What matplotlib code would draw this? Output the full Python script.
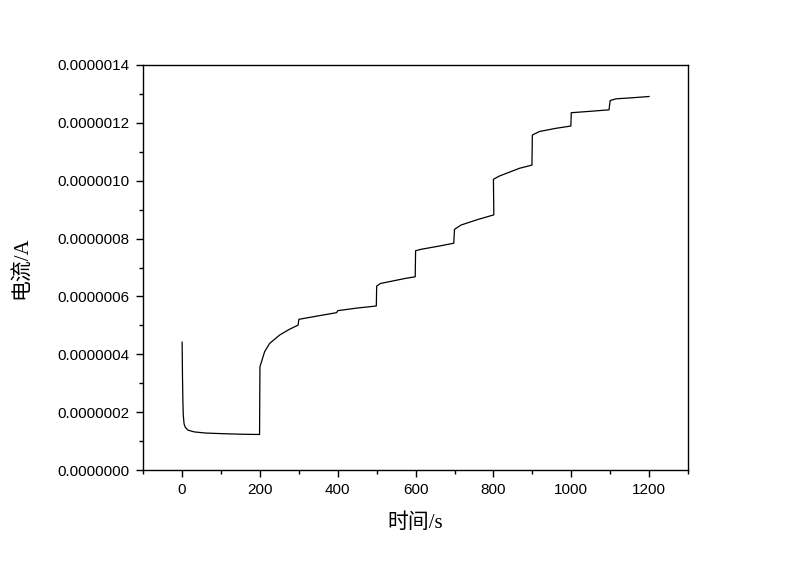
import matplotlib.pyplot as plt
from matplotlib.ticker import MultipleLocator, FormatStrFormatter

# time (s) and current (A)
t = [0, 1, 2, 3, 5, 8, 15, 31, 60, 100, 150, 199,
     200, 212, 225, 251, 275, 298,
     300, 350, 397,
     400, 450, 499,
     500, 510, 576, 599,
     600, 614, 660, 698,
     700, 717, 760, 801,
     800, 815, 867, 899,
     900, 918, 960, 999,
     1000, 1050, 1097,
     1100, 1115, 1160, 1200]
current = [4.42e-7, 3.2e-7, 2.4e-7, 1.9e-7, 1.6e-7, 1.48e-7, 1.38e-7, 1.32e-7, 1.28e-7, 1.26e-7, 1.24e-7, 1.23e-7,
           3.57e-7, 4.09e-7, 4.38e-7, 4.67e-7, 4.86e-7, 5.01e-7,
           5.21e-7, 5.33e-7, 5.44e-7,
           5.51e-7, 5.60e-7, 5.67e-7,
           6.36e-7, 6.45e-7, 6.63e-7, 6.68e-7,
           7.58e-7, 7.63e-7, 7.74e-7, 7.84e-7,
           8.32e-7, 8.47e-7, 8.66e-7, 8.82e-7,
           1.005e-6, 1.016e-6, 1.043e-6, 1.054e-6,
           1.158e-6, 1.170e-6, 1.181e-6, 1.189e-6,
           1.235e-6, 1.240e-6, 1.245e-6,
           1.277e-6, 1.283e-6, 1.287e-6, 1.291e-6]

plt.rcParams['font.family'] = ['Liberation Sans', 'DejaVu Sans']
label_font = ['Liberation Serif', 'Noto Sans CJK SC']

fig = plt.figure(figsize=(8, 5.65), dpi=100)
ax = fig.add_axes([0.179, 0.168, 0.681, 0.717])

ax.plot(t, current, color='black', linewidth=0.9)

ax.set_xlim(-100, 1300)
ax.set_ylim(0, 1.4e-6)
ax.xaxis.set_major_locator(MultipleLocator(200))
ax.xaxis.set_minor_locator(MultipleLocator(100))
ax.yaxis.set_major_locator(MultipleLocator(2e-7))
ax.yaxis.set_minor_locator(MultipleLocator(1e-7))
ax.yaxis.set_major_formatter(FormatStrFormatter('%.7f'))

ax.tick_params(which='major', direction='out', length=5, width=1, labelsize=11, pad=4)
ax.tick_params(axis='y', which='major', pad=5)
ax.tick_params(which='minor', direction='out', length=3, width=1)
for s in ax.spines.values():
    s.set_linewidth(1)

ax.set_xlabel('时间/s', family=label_font, fontsize=15, labelpad=12)
ax.set_ylabel('电流/A', family=label_font, fontsize=15, labelpad=18)

fig.savefig('out.png')
